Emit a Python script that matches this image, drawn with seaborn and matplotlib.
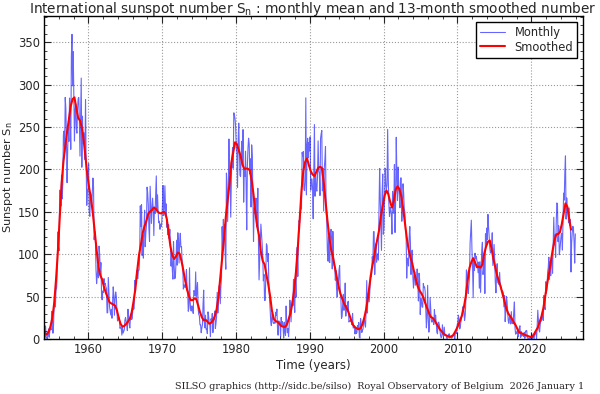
import matplotlib
matplotlib.use("Agg")
import matplotlib.pyplot as plt
import numpy as np
import seaborn as sns
from matplotlib.ticker import MultipleLocator

first_year = 1954

# monthly mean sunspot number, one row per year (Jan..Dec)
monthly = [
    0.3, 0.7, 15.4, 2.5, 1.1, 0.3, 6.8, 11.9, 2.1, 9.9, 13.0, 10.8,  # 1954
    32.7, 29.5, 6.9, 16.0, 40.9, 44.9, 37.8, 57.6, 60.5, 82.8, 126.3, 108.9,
    104.2, 175.6, 167.7, 156.8, 193.4, 165.1, 182.8, 240.2, 245.3, 219.9, 285.0, 272.0,
    233.6, 184.4, 222.9, 248.1, 233.1, 284.2, 265.1, 223.7, 333.9, 359.4, 298.6, 339.0,
    286.7, 233.5, 270.0, 277.5, 248.2, 242.8, 271.0, 283.5, 284.9, 257.0, 215.7, 265.6,
    307.8, 202.6, 262.9, 231.2, 243.6, 238.9, 211.8, 282.6, 205.6, 157.7, 175.6, 177.0,
    207.2, 150.1, 144.7, 172.8, 169.4, 156.0, 172.3, 189.9, 180.1, 117.2, 126.9, 121.2,  # 1960
    82.0, 65.3, 75.0, 86.9, 72.2, 109.6, 99.4, 79.2, 90.1, 53.4, 46.2, 56.6,
    54.8, 71.2, 64.6, 65.7, 61.9, 59.5, 30.9, 30.9, 72.6, 55.9, 38.1, 32.9,
    28.3, 34.9, 24.5, 41.9, 61.5, 51.3, 28.0, 47.5, 55.5, 50.5, 33.5, 21.3,
    22.5, 26.0, 24.3, 12.6, 14.0, 13.4, 4.6, 13.7, 6.9, 9.0, 10.9, 22.2,
    25.5, 20.7, 17.0, 9.9, 35.1, 23.2, 17.3, 13.0, 24.5, 29.3, 23.0, 24.8,
    40.0, 34.6, 35.9, 69.2, 64.3, 67.7, 80.5, 72.7, 71.3, 81.2, 81.2, 100.0,
    157.1, 132.6, 158.4, 98.5, 122.6, 95.4, 129.7, 151.9, 108.8, 125.0, 133.6, 179.1,
    172.6, 158.6, 130.6, 115.0, 180.2, 156.3, 136.2, 154.9, 166.1, 152.6, 121.9, 155.6,
    147.9, 170.7, 192.4, 151.3, 170.0, 150.2, 137.2, 138.9, 129.4, 135.6, 132.5, 138.7,
    158.0, 181.1, 145.8, 155.2, 180.7, 151.3, 159.4, 131.8, 141.0, 122.7, 134.9, 118.3,  # 1970
    129.4, 111.9, 86.0, 101.7, 81.5, 70.6, 114.8, 87.0, 71.1, 73.3, 89.6, 116.5,
    87.1, 125.3, 113.5, 89.6, 114.1, 124.7, 108.4, 108.8, 90.7, 86.9, 58.9, 64.2,
    61.5, 60.8, 65.2, 81.8, 60.1, 56.0, 32.7, 36.3, 84.0, 43.5, 33.9, 33.0,
    39.1, 36.8, 30.2, 57.1, 56.0, 51.0, 79.1, 47.6, 57.0, 66.7, 35.4, 29.0,
    27.4, 16.7, 16.7, 7.4, 13.1, 16.5, 40.9, 57.6, 20.2, 13.2, 28.1, 11.3,
    11.8, 6.3, 32.0, 27.4, 18.1, 17.8, 2.8, 23.9, 19.7, 30.1, 7.6, 22.3,
    23.5, 33.0, 12.4, 18.4, 26.6, 55.1, 30.6, 43.0, 62.9, 62.6, 41.6, 61.8,
    73.5, 132.5, 108.3, 141.2, 117.1, 134.7, 99.7, 82.3, 195.7, 177.1, 138.6, 173.7,
    235.9, 194.7, 195.4, 143.7, 190.3, 211.7, 225.7, 201.4, 266.8, 263.7, 259.6, 249.6,
    226.0, 219.5, 178.7, 232.4, 254.7, 222.7, 193.0, 191.7, 219.5, 233.2, 209.4, 247.0,  # 1980
    161.4, 200.1, 191.9, 221.5, 180.5, 128.7, 203.6, 224.7, 236.9, 230.0, 194.7, 212.5,
    155.7, 229.0, 215.3, 170.8, 115.1, 154.6, 148.5, 150.6, 166.3, 132.6, 137.3, 177.8,
    115.2, 69.7, 90.8, 110.2, 135.5, 124.4, 112.3, 98.1, 68.7, 76.2, 45.5, 45.6,
    75.2, 112.3, 110.2, 91.6, 100.8, 60.9, 49.4, 33.7, 20.7, 15.8, 30.1, 24.7,
    19.0, 18.3, 19.8, 18.6, 31.6, 27.8, 35.3, 12.8, 4.5, 21.4, 18.6, 19.9,
    2.8, 25.5, 16.6, 20.4, 15.1, 1.2, 19.9, 8.1, 4.2, 38.9, 16.7, 7.5,
    12.1, 2.8, 17.1, 45.9, 38.3, 20.2, 38.3, 44.9, 39.3, 70.3, 46.3, 31.4,
    72.5, 49.1, 93.6, 108.1, 73.8, 125.0, 139.7, 137.0, 147.5, 153.6, 153.6, 220.1,
    216.1, 221.2, 176.1, 175.0, 185.6, 284.5, 170.0, 226.3, 236.8, 213.6, 231.8, 221.8,
    238.5, 175.5, 188.7, 188.7, 177.8, 141.8, 200.9, 253.0, 168.4, 195.7, 176.7, 174.4,  # 1990
    191.0, 233.7, 198.0, 195.3, 169.2, 236.8, 242.3, 245.9, 174.8, 201.0, 150.9, 201.4,
    211.5, 227.2, 150.5, 140.7, 104.1, 91.9, 120.8, 91.0, 90.1, 125.1, 129.4, 116.5,
    82.7, 126.9, 97.3, 86.7, 85.5, 69.4, 80.7, 59.1, 49.4, 62.0, 65.9, 81.4,
    86.7, 53.3, 47.6, 24.2, 26.7, 42.0, 52.7, 33.8, 38.6, 66.0, 27.0, 39.3,
    34.6, 42.8, 44.5, 20.0, 20.7, 22.3, 20.7, 20.4, 16.9, 30.2, 12.9, 14.3,
    15.5, 5.9, 12.4, 6.5, 7.4, 15.9, 11.1, 19.4, 2.2, 1.2, 24.2, 18.0,
    7.7, 10.2, 11.7, 20.8, 24.9, 17.1, 14.0, 32.8, 68.9, 30.6, 52.4, 55.4,
    43.8, 55.3, 75.2, 73.3, 77.3, 97.1, 91.4, 126.6, 126.6, 76.2, 101.6, 112.4,
    90.6, 96.9, 100.5, 93.1, 155.5, 201.2, 165.8, 136.9, 104.5, 170.5, 194.6, 123.6,
    131.0, 164.2, 201.4, 182.5, 176.8, 181.6, 247.3, 189.7, 159.5, 144.5, 155.3, 151.8,  # 2000
    146.7, 123.7, 174.2, 165.3, 148.3, 205.7, 125.6, 163.3, 238.0, 192.6, 163.5, 202.9,
    179.5, 168.9, 154.8, 189.9, 190.0, 138.9, 156.7, 183.1, 172.4, 153.4, 149.4, 128.4,
    124.3, 71.8, 95.3, 93.6, 86.1, 120.7, 132.6, 113.4, 76.1, 102.3, 104.8, 73.3,
    60.1, 74.3, 79.0, 63.5, 67.1, 69.8, 82.6, 66.1, 44.8, 77.6, 70.3, 28.9,
    48.1, 44.9, 37.7, 37.5, 65.5, 60.9, 61.3, 55.9, 34.0, 13.1, 27.7, 63.3,
    25.0, 8.1, 17.6, 49.1, 36.1, 22.6, 19.8, 21.0, 23.4, 17.1, 34.8, 22.1,
    28.1, 17.6, 8.0, 6.1, 19.4, 19.9, 16.6, 10.3, 4.0, 1.5, 2.8, 16.8,
    5.1, 3.2, 14.0, 4.4, 4.4, 4.7, 0.8, 0.8, 1.7, 4.4, 6.2, 1.2,
    2.3, 2.2, 1.1, 1.9, 4.5, 4.0, 5.4, 0.0, 6.8, 7.1, 6.5, 16.4,
    19.8, 28.1, 23.3, 11.9, 13.3, 20.4, 24.3, 29.6, 38.1, 35.5, 32.6, 21.9,  # 2010
    27.6, 42.6, 81.5, 78.9, 60.3, 53.7, 63.7, 73.4, 113.1, 127.6, 140.2, 105.9,
    85.5, 48.6, 94.2, 81.0, 101.2, 94.6, 97.6, 92.4, 90.1, 78.2, 90.7, 59.9,
    91.2, 55.2, 84.0, 105.0, 114.1, 76.1, 82.7, 95.7, 53.7, 124.1, 112.5, 130.9,
    117.3, 147.0, 131.8, 121.1, 107.5, 101.5, 103.5, 106.7, 125.3, 86.7, 100.2, 111.5,
    93.0, 66.7, 54.5, 75.3, 88.8, 66.5, 65.8, 64.4, 78.6, 63.6, 62.2, 58.0,
    57.0, 56.4, 54.1, 37.9, 51.5, 20.5, 32.4, 50.2, 44.6, 33.4, 21.4, 18.5,
    26.1, 26.4, 17.7, 32.3, 18.9, 19.2, 17.8, 32.6, 43.7, 13.2, 5.7, 8.2,
    6.8, 10.7, 2.5, 8.9, 13.1, 15.6, 1.6, 8.7, 3.3, 4.9, 4.9, 3.1,
    7.7, 0.8, 9.4, 9.1, 9.9, 1.2, 0.9, 0.5, 1.1, 0.4, 0.5, 1.5,
    6.2, 0.2, 1.5, 5.2, 0.2, 5.8, 6.1, 7.5, 0.6, 14.4, 34.0, 21.8,  # 2020
    10.4, 8.2, 17.2, 24.5, 21.2, 25.0, 34.3, 22.0, 51.3, 37.4, 34.8, 67.5,
    54.0, 59.7, 78.5, 84.1, 96.5, 70.5, 91.4, 74.6, 96.0, 95.5, 77.6, 113.1,
    143.6, 110.9, 122.6, 96.4, 137.4, 160.5, 159.1, 114.8, 133.6, 99.4, 105.4, 114.2,
    123.0, 124.7, 104.9, 136.5, 172.1, 163.8, 196.8, 216.0, 141.4, 166.4, 152.5, 154.5,
    137.0, 154.6, 134.2, 140.6, 79.0, 113.0, 125.6, 133.0, 129.8, 114.5, 89.5, 124.0,  # 2025
]

# 13-month smoothed number, read every 3 months (Feb, May, Aug, Nov)
smoothed = [
    7.0, 5.2, 8.4, 14.7,  # 1954
    24.4, 41.9, 69.5, 102.5,
    141.1, 181.6, 208.8, 227.2,
    244.1, 259.7, 275.0, 283.0,
    285.0, 272.2, 260.7, 257.7,
    249.6, 234.3, 213.5, 193.2,
    177.7, 165.1, 147.4, 126.2,  # 1960
    105.2, 85.1, 75.1, 70.3,
    61.3, 54.5, 49.0, 43.3,
    41.9, 40.8, 39.3, 33.9,
    24.7, 17.7, 14.6, 15.4,
    17.8, 20.5, 23.9, 31.5,
    44.1, 58.9, 80.6, 99.5,
    111.2, 125.5, 133.3, 139.5,
    147.9, 150.4, 152.1, 155.0,
    153.7, 150.6, 148.5, 148.1,
    149.8, 149.7, 141.8, 125.5,  # 1970
    109.2, 98.5, 94.4, 97.5,
    102.0, 100.6, 91.9, 80.7,
    68.8, 58.2, 50.7, 45.9,
    45.8, 47.9, 46.9, 39.7,
    31.7, 25.7, 22.0, 22.7,
    20.7, 18.0, 19.1, 21.5,
    26.8, 34.9, 49.5, 72.0,
    94.2, 117.8, 144.2, 163.6,
    183.1, 208.1, 219.8, 232.0,
    229.7, 222.5, 216.1, 205.7,  # 1980
    200.7, 201.1, 200.8, 199.0,
    186.9, 170.7, 149.3, 132.8,
    122.2, 102.7, 92.0, 88.0,
    75.8, 64.5, 50.4, 33.1,
    23.7, 21.1, 20.1, 17.9,
    15.4, 14.6, 14.2, 16.5,
    23.1, 30.4, 41.6, 57.6,
    79.0, 107.8, 140.3, 175.1,
    199.0, 209.0, 213.0, 205.0,
    198.0, 194.0, 192.2, 196.9,  # 1990
    201.8, 203.1, 202.0, 186.0,
    163.5, 140.8, 121.5, 105.8,
    97.1, 85.7, 74.0, 62.8,
    54.0, 48.1, 42.1, 38.1,
    34.1, 28.2, 21.4, 16.3,
    13.9, 12.3, 11.5, 12.7,
    17.5, 25.0, 34.9, 48.7,
    65.9, 81.8, 92.8, 106.0,
    117.0, 127.9, 144.8, 157.3,
    169.0, 175.4, 171.0, 162.0,  # 2000
    155.0, 163.0, 176.0, 180.0,
    177.0, 169.1, 155.0, 137.0,
    120.0, 105.8, 96.3, 88.9,
    79.4, 69.7, 61.9, 56.9,
    53.7, 48.9, 42.5, 36.8,
    30.9, 26.0, 24.9, 22.4,
    18.4, 14.8, 11.3, 8.7,
    6.2, 4.6, 3.6, 2.7,
    3.0, 4.1, 7.6, 11.8,
    16.6, 22.4, 28.3, 37.8,  # 2010
    50.5, 68.9, 83.9, 90.6,
    95.4, 90.6, 84.6, 85.5,
    84.2, 88.0, 100.7, 109.0,
    114.8, 116.2, 105.8, 94.1,
    84.6, 74.6, 67.9, 60.9,
    52.4, 44.4, 35.8, 30.1,
    27.1, 23.8, 19.8, 16.3,
    11.6, 7.6, 6.9, 6.1,
    4.9, 4.0, 3.2, 2.4,
    2.5, 5.8, 9.8, 13.4,  # 2020
    19.8, 26.6, 36.1, 50.1,
    64.0, 76.5, 90.4, 104.0,
    116.0, 123.5, 123.8, 126.0,
    135.4, 148.0, 160.0, 156.0,
    142.0, 129.0,  # 2025
]

title = r"International sunspot number S$_\mathrm{n}$ : monthly mean and 13-month smoothed number"
footer = "SILSO graphics (http://sidc.be/silso)  Royal Observatory of Belgium  2026 January 1"

t_month = first_year + (np.arange(len(monthly)) + 0.5) / 12
t_smooth = first_year + (np.arange(len(smoothed)) * 3 + 1.5) / 12

sns.set_style("ticks")
plt.rcParams["font.family"] = ["DejaVu Sans"]
plt.rcParams["xtick.direction"] = "in"
plt.rcParams["ytick.direction"] = "in"
plt.rcParams["xtick.top"] = True
plt.rcParams["ytick.right"] = True

fig = plt.figure(figsize=(6.0, 3.94), dpi=100)
ax = fig.add_axes([44 / 600, 1 - 339 / 394, (583 - 44) / 600, (339 - 16) / 394])

sns.lineplot(x=t_month, y=monthly, ax=ax, color="blue", alpha=0.6, lw=0.8,
             label="Monthly", estimator=None)
sns.lineplot(x=t_smooth, y=smoothed, ax=ax, color="red", lw=1.5,
             label="Smoothed", estimator=None)

ax.set_xlim(1954.0, 2027.0)
ax.set_ylim(0, 381)
ax.xaxis.set_major_locator(MultipleLocator(10))
ax.xaxis.set_minor_locator(MultipleLocator(2))
ax.yaxis.set_major_locator(MultipleLocator(50))
ax.yaxis.set_minor_locator(MultipleLocator(10))
ax.tick_params(which="major", length=5, width=0.8, labelsize=8.3, pad=3)
ax.tick_params(which="minor", length=2.5, width=0.6)
for s in ax.spines.values():
    s.set_color("black")
    s.set_linewidth(1.0)
ax.grid(True, which="major", linestyle=":", color="#999999", lw=0.8)

ax.set_xlabel("Time (years)", fontsize=8.5, labelpad=2)
ax.set_ylabel(r"Sunspot number S$_\mathrm{n}$", fontsize=8.2)
ax.yaxis.set_label_coords(-29 / 539, 0.5)

leg = ax.legend(loc="upper right", fontsize=8.3, fancybox=False, framealpha=1,
                edgecolor="black", handlelength=2.2, borderpad=0.35, labelspacing=0.15)
leg.get_frame().set_linewidth(1.0)

fig.text(313 / 600, 1 - 9 / 394, title, ha="center", va="center", fontsize=9.8)
fig.text(584 / 600, 1 - 386 / 394, footer, ha="right", va="center",
         fontsize=6.9, family="DejaVu Serif")

fig.savefig("out.png", dpi=100)
